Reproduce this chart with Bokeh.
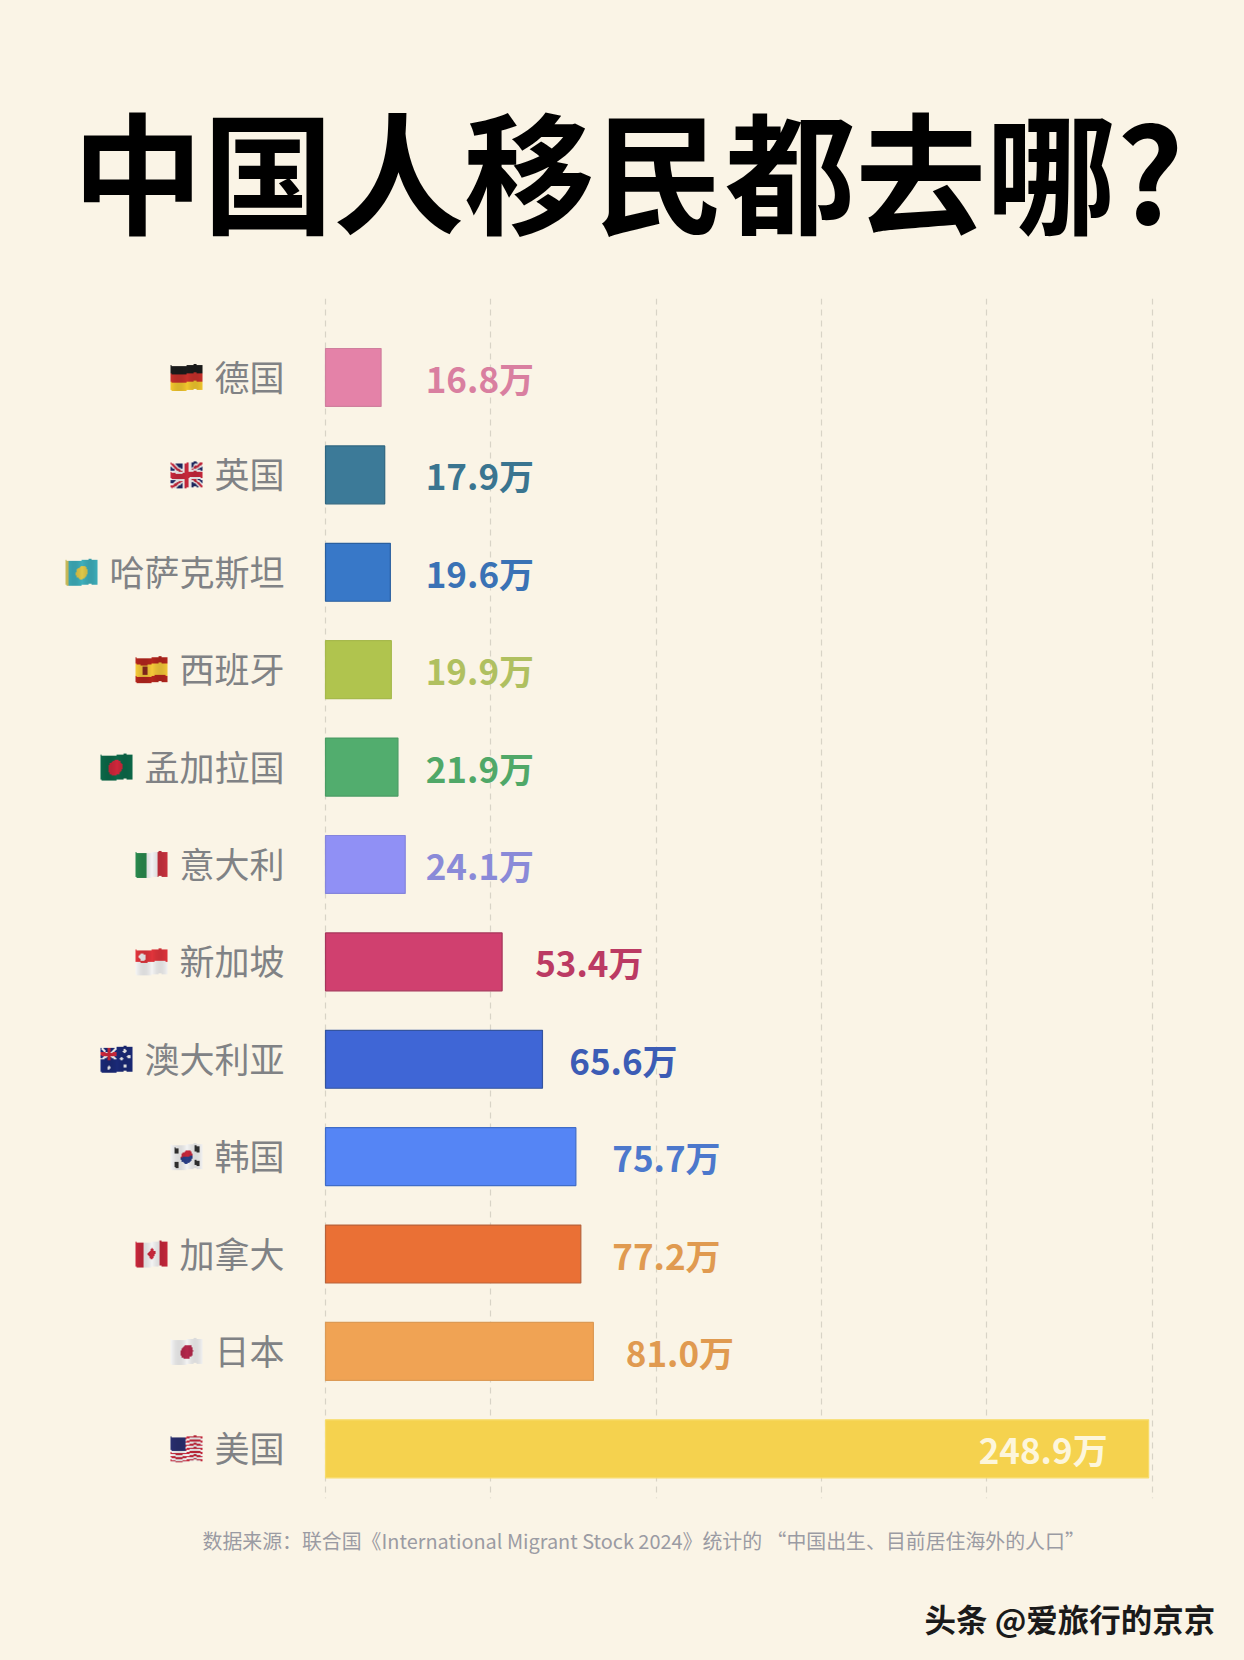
import numpy as np
from bokeh.core.properties import value
from bokeh.embed import file_html
from bokeh.models import ColumnDataSource, FixedTicker, GlobalInlineStyleSheet, Range1d, Title
from bokeh.plotting import figure
from bokeh.resources import INLINE

# Data
countries = ["德国", "英国", "哈萨克斯坦", "西班牙", "孟加拉国", "意大利",
             "新加坡", "澳大利亚", "韩国", "加拿大", "日本", "美国"]
values = [16.8, 17.9, 19.6, 19.9, 21.9, 24.1, 53.4, 65.6, 75.7, 77.2, 81.0, 248.9]
flags = ["de", "gb", "kz", "es", "bd", "it", "sg", "au", "kr", "ca", "jp", "us"]
bar_colors = ["#e482a8", "#3c7a98", "#3878c8", "#b0c44e", "#52ad6e", "#9090f5",
              "#d0406f", "#3f66d6", "#5585f5", "#ea7035", "#f0a354", "#f5d24e"]
bar_edges = ["#cf7f9d", "#2f6680", "#2a5f9f", "#a6b94c", "#4a9c64", "#8585dc",
             "#a5355a", "#34549f", "#3f6cc8", "#b8623a", "#dc9a55", "#f7dc6a"]
label_colors = ["#d97fa0", "#3a7590", "#3a72b5", "#b0c060", "#50a868", "#8a8ad8",
                "#bb3a63", "#3c5cb5", "#4c78cc", "#e09a50", "#e09a50", "#fdf6dc"]
grid_ticks = [0, 50, 100, 150, 200, 250]
title = "中国人移民都去哪?"
footnote = "数据来源：联合国《International Migrant Stock 2024》统计的 “中国出生、目前居住海外的人口”"
watermark = "头条 @爱旅行的京京"

BG = "#faf4e6"
FONT = value("Noto Sans CJK SC")
PX_X = 3.307  # pixels per unit on x
PX_Y = 97.4   # pixels per row

# where each value label starts
label_x = [30.3, 30.3, 30.3, 30.3, 30.3, 30.3, 63.4, 73.7, 86.7, 86.7, 90.8, 197.5]


def rgb(h):
    return np.array([int(h[i:i + 2], 16) for i in (1, 3, 5)], dtype=float)


def paint_flag(name, u, v, img):
    # u, v run 0..1 from the top left corner
    def fill(mask, color):
        img[mask] = rgb(color)

    if name == "de":
        fill(v < 1, "#1c1c1c"); fill(v >= 1 / 3, "#c8312c"); fill(v >= 2 / 3, "#f2c72e")
    elif name == "gb":
        fill(v < 2, "#1f2a66")
        d1, d2 = abs(u - v), abs(u + v - 1)
        fill((d1 < 0.14) | (d2 < 0.14), "#f4f4f4")
        fill((d1 < 0.06) | (d2 < 0.06), "#c8283c")
        fill((abs(u - .5) < .14) | (abs(v - .5) < .2), "#f4f4f4")
        fill((abs(u - .5) < .07) | (abs(v - .5) < .11), "#c8283c")
    elif name == "kz":
        fill(v < 2, "#3fb0bd")
        fill((u - .5) ** 2 + ((v - .5) * .7) ** 2 < .035, "#e0c84a")
        fill(u < .08, "#c9bb5a")
    elif name == "es":
        fill(v < 2, "#b5261e"); fill(abs(v - .5) < .25, "#f5c93a")
        fill((abs(u - .3) < .08) & (abs(v - .5) < .17), "#8a2b1f")
    elif name == "bd":
        fill(v < 2, "#0c6a4a")
        fill((u - .45) ** 2 + ((v - .5) * .7) ** 2 < .05, "#d0283c")
    elif name == "it":
        fill(u < 2, "#f4f4f4"); fill(u < 1 / 3, "#2a8a4e"); fill(u > 2 / 3, "#cc3340")
    elif name == "sg":
        fill(v < .5, "#e2353c"); fill(v >= .5, "#f4f4f4")
        fill((u - .2) ** 2 + ((v - .25) * .7) ** 2 < .012, "#f4f4f4")
    elif name == "au":
        fill(v < 2, "#1b2a78")
        q = (u < .5) & (v < .5)
        fill(q & ((abs(u - v) < .05) | (abs(u + v - .5) < .05)), "#f4f4f4")
        fill(q & ((abs(u - .25) < .05) | (abs(v - .25) < .07)), "#d0283c")
        for cx, cy in [(.25, .78), (.75, .2), (.88, .42), (.65, .5), (.76, .82)]:
            fill((u - cx) ** 2 + ((v - cy) * .7) ** 2 < .003, "#f4f4f4")
    elif name == "kr":
        fill(v < 2, "#f4f4f4")
        for cx, cy in [(.18, .22), (.82, .22), (.18, .78), (.82, .78)]:
            fill((abs(u - cx) < .07) & (abs(v - cy) < .12), "#333333")
        disc = (u - .5) ** 2 + ((v - .5) * .7) ** 2 < .035
        fill(disc & (v < .5), "#c8283c"); fill(disc & (v >= .5), "#2a3f88")
    elif name == "ca":
        fill(v < 2, "#f4f4f4"); fill((u < .25) | (u > .75), "#c8283c")
        fill(abs(u - .5) + abs(v - .47) * .55 < .14, "#c8283c")
    elif name == "jp":
        fill(v < 2, "#f4f4f4")
        fill((u - .5) ** 2 + ((v - .5) * .7) ** 2 < .04, "#b5284c")
    elif name == "us":
        fill(v < 2, "#f4f4f4")
        fill(np.floor(v * 13) % 2 == 0, "#c8283c")
        fill((u < .45) & (v < 7 / 13), "#2a2f70")


def make_flag(name, w=64, h=44):
    u, v = np.meshgrid(np.linspace(0, 1, w), np.linspace(0, 1, int(h * .9)))
    img = np.zeros(u.shape + (3,))
    paint_flag(name, u, v, img)
    # emoji flags have a small wave in them
    out = np.zeros((h, w, 4), dtype=np.uint8)
    for c in range(w):
        shift = int(round(np.sin(c / w * 2 * np.pi) * h * .04 + h * .05))
        out[shift:shift + img.shape[0], c, :3] = img[:, c]
        out[shift:shift + img.shape[0], c, 3] = 255
        shade = 1 - .1 * abs(np.sin(c / w * 2 * np.pi))
        out[:, c, :3] = (out[:, c, :3] * shade).astype(np.uint8)
    return out.view(np.uint32).reshape(h, w)


p = figure(
    width=1228, height=1652,
    x_range=Range1d(-98.28, 273.05), y_range=Range1d(11.51, -0.811),
    toolbar_location=None, output_backend="svg",
    min_border_left=0, min_border_right=0, min_border_top=298, min_border_bottom=154,
    background_fill_color=BG, border_fill_color=BG, outline_line_color=None,
)
p.stylesheets = [GlobalInlineStyleSheet(css=f"html, body {{ background: {BG}; }}")]

p.title.text = title
p.title.text_font = "Noto Sans CJK SC"
p.title.text_font_size = "130.5px"
p.title.text_font_style = "bold"
p.title.text_color = "#000000"
p.title.align = "left"
p.title.offset = 72
p.title.standoff = 73

p.xaxis.visible = False
p.yaxis.visible = False
p.ygrid.visible = False
p.xgrid.ticker = FixedTicker(ticks=grid_ticks)
p.xgrid.grid_line_color = "#d8d3c6"
p.xgrid.grid_line_dash = "6 5"
p.xgrid.grid_line_width = 1.2

rows = list(range(len(countries)))
source = ColumnDataSource(dict(
    country=countries, value=values, row=rows, bar_color=bar_colors, bar_edge=bar_edges,
    label=[f"{v:.1f}万" for v in values], label_x=label_x, label_color=label_colors,
))

p.hbar(y="row", left=0, right="value", height=0.595, fill_color="bar_color",
       line_color="bar_edge", line_width=1.2, source=source)

p.text(x="label_x", y="row", text="label", text_color="label_color", text_font=FONT,
       text_font_size="35px", text_font_style="bold", text_baseline="middle", source=source)

# country names end just left of the bars
name_x = (284 - 325) / PX_X
p.text(x=name_x, y="row", text="country", text_color="#808285", text_font=FONT,
       text_font_size="35px", text_align="right", text_baseline="middle", y_offset=-2, source=source)

# flags sit in front of the names
flag_w, flag_h = 32, 27
for row, (name, flag) in enumerate(zip(countries, flags)):
    fx = name_x - (len(name) * 35 + 12 + flag_w) / PX_X
    p.image_rgba(image=[make_flag(flag)], x=fx, y=row - flag_h / 2 / PX_Y,
                 dw=flag_w / PX_X, dh=flag_h / PX_Y)

# source line and watermark go under the frame
p.add_layout(Title(text=footnote, align="left", offset=202, standoff=55, vertical_align="top", text_color="#9a9ba3",
                   text_font="Noto Sans CJK SC", text_font_size="19.9px", text_font_style="normal"), "below")
p.add_layout(Title(text=watermark, align="left", offset=924, standoff=20, vertical_align="top", text_color="#1a1a1a",
                   text_font="Noto Sans CJK SC", text_font_size="31.5px", text_font_style="bold"), "below")

open("out.html", "w").write(file_html(p, INLINE))
